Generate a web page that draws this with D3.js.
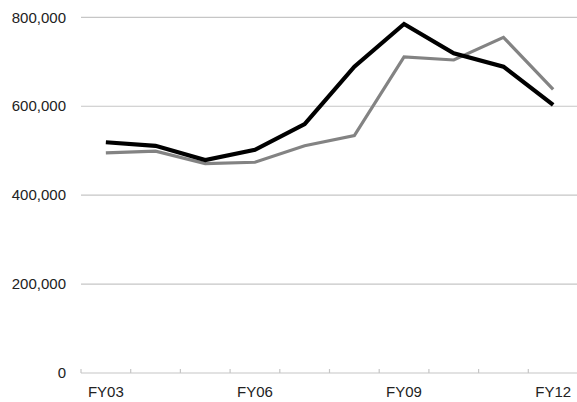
<!DOCTYPE html>
<html><head><meta charset="utf-8">
<script src="https://cdn.jsdelivr.net/npm/d3@7"></script>
<style>body{margin:0;background:#fff}svg{display:block}text{font-family:"Liberation Sans",Arial,sans-serif;font-size:15px;fill:#222}</style>
</head><body><svg id="c" width="577" height="402"></svg>
<script>
const categories=["FY03","FY04","FY05","FY06","FY07","FY08","FY09","FY10","FY11","FY12"];
const seriesBlack=[519000,511000,479000,502000,560000,689000,785000,719000,689000,603000];
const seriesGray=[495000,499000,471000,474000,511000,534000,711000,704000,755000,638000];
const yTicks=[0,200000,400000,600000,800000];
const xLabels=["FY03","FY06","FY09","FY12"];

const svg=d3.select("#c");
const mLeft=81,mRight=578,mTop=17.3,mBottom=373;
const x=d3.scaleBand().domain(categories).range([mLeft,mRight]);
const y=d3.scaleLinear().domain([0,800000]).range([mBottom,mTop]);

svg.append("g").selectAll("line").data(yTicks).join("line")
 .attr("x1",mLeft).attr("x2",mRight).attr("y1",d=>y(d)).attr("y2",d=>y(d))
 .attr("stroke","#c6c6c6").attr("stroke-width",1.2);
svg.append("g").selectAll("text").data(yTicks).join("text")
 .attr("x",66).attr("y",d=>y(d)).attr("dy","0.35em").attr("text-anchor","end")
 .text(d=>d3.format(",")(d));
svg.append("g").selectAll("line").data(categories).join("line")
 .attr("x1",d=>x(d)).attr("x2",d=>x(d)).attr("y1",mBottom-4).attr("y2",mBottom)
 .attr("stroke","#c6c6c6").attr("stroke-width",1.2);
svg.append("g").selectAll("text").data(xLabels).join("text")
 .attr("x",d=>x(d)+x.bandwidth()/2).attr("y",mBottom+19).attr("dy","0.35em").attr("text-anchor","middle")
 .text(d=>d);
const line=d3.line().x((d,i)=>x(categories[i])+x.bandwidth()/2).y(d=>y(d));
svg.append("path").datum(seriesGray).attr("d",line).attr("fill","none").attr("stroke","#838383").attr("stroke-width",3.2).attr("stroke-linejoin","miter");
svg.append("path").datum(seriesBlack).attr("d",line).attr("fill","none").attr("stroke","#000").attr("stroke-width",4.2).attr("stroke-linejoin","miter");
</script></body></html>
